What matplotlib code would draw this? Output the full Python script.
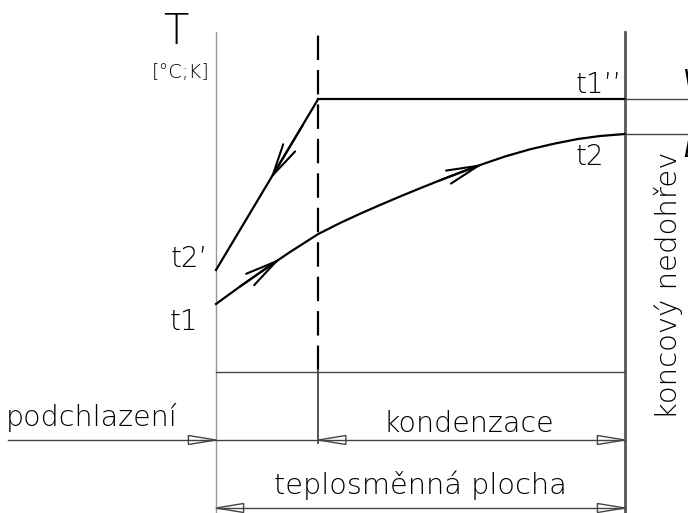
import matplotlib
matplotlib.use("Agg")
import matplotlib.pyplot as plt
from matplotlib.patches import Polygon

# Schematic data: x = heat exchange area (podchlazeni 0..1, kondenzace 1..4), y = temperature
x_left, x_cond, x_right = 0.0, 1.0, 4.0
x_edge = 4.62          # right border of the sheet
x_dim_start = -2.03    # start of the "podchlazeni" dimension line

t1 = 6.8
t2_prime = 10.2
t1_dd = 27.3

# heated medium t1 -> t2
curve_x = [0.0, 0.235, 0.479, 0.724, 1.0, 1.213, 1.408, 1.604, 1.800, 1.995,
           2.191, 2.386, 2.611, 2.826, 3.071, 3.315, 3.540, 3.756, 4.0]
curve_t = [6.8, 8.55, 10.3, 12.0, 13.8, 14.9, 15.82, 16.7, 17.55, 18.37,
           19.17, 19.95, 20.8, 21.55, 22.27, 22.85, 23.3, 23.6, 23.8]

t_top = 34.0        # top of the vertical lines
t_base = 0.0        # base line
t_dim1 = -6.8       # podchlazeni / kondenzace dimension
t_dim2 = -13.6      # teplosmenna plocha dimension
t_bottom = -14.2

# flow direction arrows (tip, point behind)
flow_arrows = [((0.53, 19.26), (0.85, 24.7)),
               ((0.63, 11.35), (0.235, 8.55)),
               ((2.611, 20.8), (2.191, 19.17))]

fig = plt.figure(figsize=(6.88, 5.13), dpi=100)
ax = fig.add_axes([0, 0, 1, 1])
ax.set_xlim(-2.1125, 4.616)
ax.set_ylim(-14.1, 37.2)
ax.axis("off")

ink = "black"
thin = "#444444"
font = dict(family=["DejaVu Sans", "Noto Sans"], fontweight="light", color="black")

# vertical lines
ax.plot([x_left, x_left], [t_bottom, t_top], color="#999999", lw=1.0)
ax.plot([x_right, x_right], [t_bottom, t_top], color="#555555", lw=2.0)
ax.plot([x_cond, x_cond], [t_base + 0.2, t_top], color=ink, lw=1.6,
        dashes=(11, 4.5))
ax.plot([x_cond, x_cond], [t_dim1 - 0.3, t_base + 0.2], color=thin, lw=1.3)

# temperature profiles
ax.plot([x_left, x_cond], [t2_prime, t1_dd], color=ink, lw=1.6)
ax.plot([x_cond, x_right], [t1_dd, t1_dd], color=ink, lw=1.6)
ax.plot([x_right, x_edge], [t1_dd, t1_dd], color=thin, lw=1.0)
ax.plot(curve_x, curve_t, color=ink, lw=1.6)
ax.plot([x_right, x_edge], [curve_t[-1], curve_t[-1]], color=thin, lw=1.0)

for tip, back in flow_arrows:
    ax.annotate("", xy=tip, xytext=back,
                arrowprops=dict(arrowstyle="->,head_length=2.3,head_width=0.5",
                                lw=1.5, color=ink, shrinkA=0, shrinkB=0))

# base line and dimension lines
ax.plot([x_left, x_right], [t_base, t_base], color=thin, lw=1.0)
ax.plot([x_dim_start, x_right], [t_dim1, t_dim1], color=thin, lw=1.0)
ax.plot([x_left, x_right], [t_dim2, t_dim2], color=thin, lw=1.0)


def dim_arrow(x_tip, y, direction):
    # open triangle arrow head: length 0.27 area units, half width 0.45 K
    x_back = x_tip - direction * 0.27
    tri = Polygon([(x_tip, y), (x_back, y + 0.45), (x_back, y - 0.45)],
                  closed=True, fill=False, edgecolor=thin, lw=1.0)
    ax.add_patch(tri)


dim_arrow(x_left, t_dim1, +1)
dim_arrow(x_cond, t_dim1, -1)
dim_arrow(x_right, t_dim1, +1)
dim_arrow(x_left, t_dim2, -1)
dim_arrow(x_right, t_dim2, +1)

# labels
ax.text(-0.39, 34.0, "T", fontsize=30, ha="center", va="center", **font)
ax.text(-0.35, 30.0, "[°C;K]", fontsize=14, ha="center", va="center", **font)
ax.text(3.74, 28.7, "t1’’", fontsize=20, ha="center", va="center", **font)
ax.text(3.66, 21.5, "t2", fontsize=20, ha="center", va="center", **font)
ax.text(-0.26, 11.3, "t2’", fontsize=20, ha="center", va="center", **font)
ax.text(-0.31, 5.0, "t1", fontsize=20, ha="center", va="center", **font)
ax.text(-1.22, -4.6, "podchlazení", fontsize=20.5, ha="center", va="center", **font)
ax.text(2.47, -5.2, "kondenzace", fontsize=20.5, ha="center", va="center", **font)
ax.text(2.0, -11.3, "teplosměnná plocha", fontsize=20.8, ha="center", va="center", **font)
ax.text(4.43, 8.7, "koncový nedohřev", fontsize=21, rotation=90,
        ha="center", va="center", **font)
ax.text(4.56, 29.2, "V", fontsize=18, ha="left", va="center", style="italic", **font)
ax.text(4.57, 22.2, "L", fontsize=18, ha="left", va="center", style="italic", **font)

fig.savefig("out.png", dpi=100)
